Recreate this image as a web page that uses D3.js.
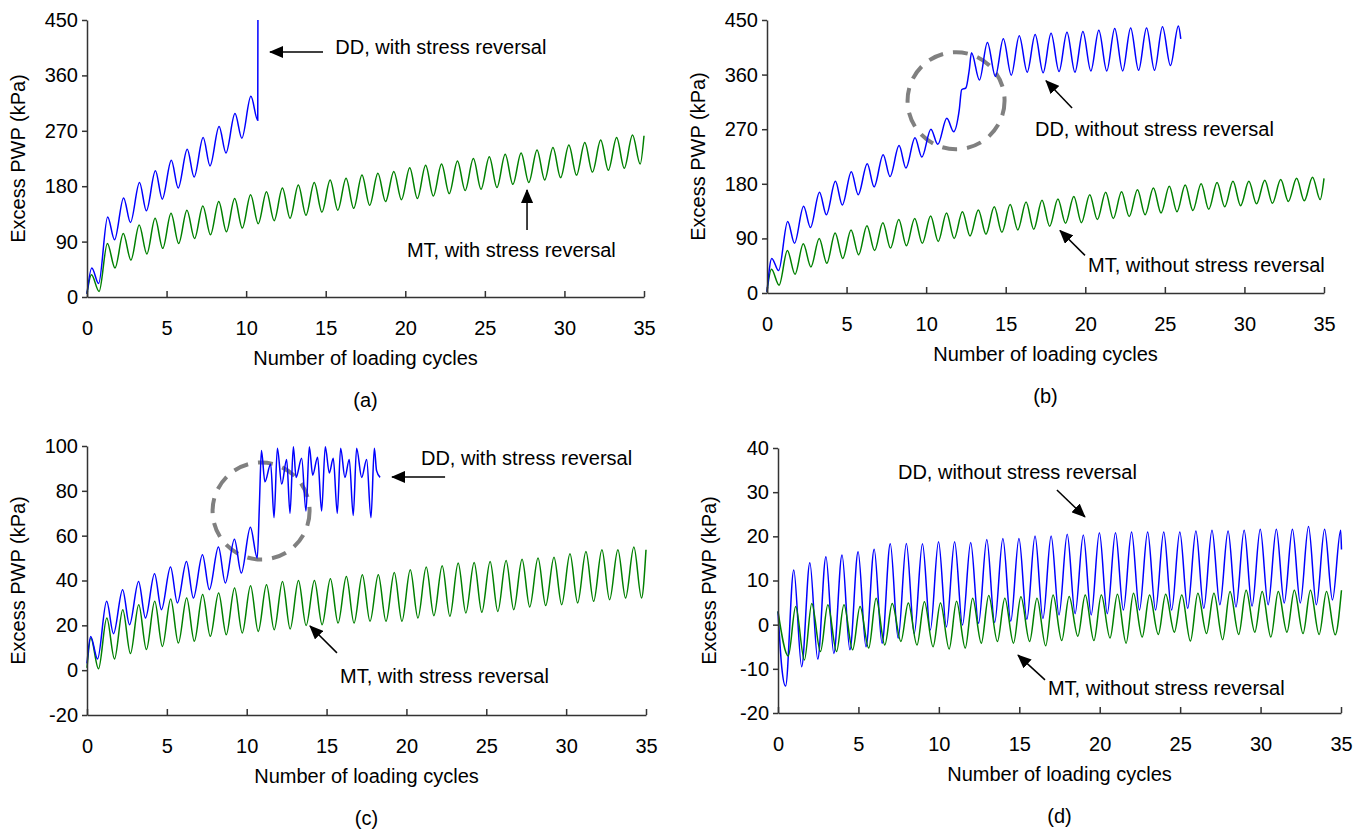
<!DOCTYPE html>
<html>
<head>
<meta charset="utf-8">
<script src="https://cdn.jsdelivr.net/npm/d3@7"></script>
<style>
  body { margin: 0; background: #fff; }
</style>
</head>
<body>
<svg id="fig" width="1366" height="833"></svg>
<script>
// DATA - excess PWP (kPa), one peak / trough per loading cycle
const cycleTicks = [0, 5, 10, 15, 20, 25, 30, 35]
const pwpTicksAB = [0, 90, 180, 270, 360, 450]
const pwpTicksC = [-20, 0, 20, 40, 60, 80, 100]
const pwpTicksD = [-20, -10, 0, 10, 20, 30, 40]

// (a) with stress reversal
const aDDPeaks = [47, 130, 161, 186, 205, 222, 240, 259, 277, 298, 326]
const aDDTroughs = [22, 93, 121, 140, 159, 177, 195, 213, 234, 258, 287]
const aDDFailure = [[10.74, 450]]
const aMTPeaks = [36, 87, 103, 117, 128, 136, 141, 148, 155, 160, 166, 171, 177, 182, 186, 190, 193, 198, 201, 204, 210, 214, 216, 221, 225, 228, 232, 234, 239, 243, 247, 251, 255, 259, 263]
const aMTTroughs = [9, 47, 60, 70, 79, 87, 95, 101, 106, 112, 119, 124, 128, 133, 138, 141, 144, 149, 155, 158, 160, 164, 168, 173, 175, 178, 183, 186, 190, 194, 198, 203, 206, 209, 216]

// (b) without stress reversal
const bDDPeaks = [57, 118, 143, 166, 184, 200, 213, 228, 243, 256, 270, 288]
const bDDTroughs = [37, 82, 108, 129, 145, 162, 175, 192, 206, 224, 245, 266]
const bDDJump = [[12.08, 302], [12.23, 335], [12.5, 338], [12.71, 368]]
const bDDPeaksLate = [396, 413, 419, 424, 426, 428, 430, 431, 433, 436, 437, 437, 439, 440]
const bDDTroughsLate = [351, 357, 359, 364, 363, 365, 364, 366, 366, 366, 367, 367, 375]
const bMTPeaks = [39, 70, 81, 90, 99, 104, 111, 116, 121, 123, 127, 132, 134, 137, 142, 146, 150, 153, 155, 159, 162, 166, 167, 170, 173, 176, 178, 180, 182, 184, 184, 186, 187, 189, 191]
const bMTTroughs = [13, 31, 43, 49, 57, 63, 70, 74, 78, 82, 85, 90, 94, 97, 100, 104, 105, 110, 115, 116, 121, 123, 126, 129, 132, 134, 136, 138, 142, 144, 147, 148, 151, 152, 154]

// (c) with stress reversal
const cDDPeaks = [15, 30.7, 35.9, 39.6, 43, 46, 48.5, 51.5, 54.9, 58.4, 63.8]
const cDDTroughs = [5, 16.3, 20.3, 23.3, 27, 30, 32.2, 35.9, 38.9, 43.3, 50]
const cDDLate = [[10.8, 75], [10.92, 98], [11.14, 84], [11.5, 92], [11.71, 68], [11.92, 99], [12.19, 83], [12.5, 94],
  [12.71, 70], [12.92, 99.7], [13.09, 86], [13.44, 94.5], [13.71, 71], [13.92, 99.7], [14.13, 87], [14.44, 95],
  [14.69, 71], [14.92, 99.7], [15.17, 88], [15.42, 94.5], [15.67, 70], [15.88, 99], [16.15, 86], [16.42, 94],
  [16.67, 69], [16.88, 99], [17.2, 86], [17.51, 94], [17.78, 68], [17.99, 99], [18.13, 89], [18.35, 86]]
const cMTPeaks = [14.4, 23.3, 27, 29.2, 30.7, 31.7, 32.2, 33.7, 34.4, 36.6, 37.7, 38.1, 39.6, 40, 40, 40.8, 41.8, 42.6, 42.6, 43.6, 44.8, 46, 46.6, 47.8, 48, 48.5, 48.9, 49.5, 50, 50.4, 51.9, 52.9, 53.7, 53.7, 54.9]
const cMTTroughs = [0.6, 5, 7.4, 9.2, 10.6, 12.1, 12.9, 15.1, 15.8, 16.6, 17.3, 18, 18.4, 19.9, 20.3, 21, 21, 21.8, 21.8, 21.8, 23.3, 24.3, 24, 25.5, 25.8, 26.2, 27, 28.2, 28.8, 29.2, 30, 30.7, 31.4, 32.2, 32.2]

// (d) without stress reversal
const dDDPeaks = [12.4, 14, 15.4, 15.8, 16.5, 17.1, 18.3, 18.4, 18.3, 18.8, 18.8, 18.6, 19.3, 19.5, 19.5, 20.1, 20.1, 20.5, 20.3, 20.8, 20.8, 21, 21, 21, 21, 21.2, 21.4, 21.2, 21.4, 21.6, 21.6, 21.6, 22.2, 21.6, 21.4]
const dDDTroughs = [-13.9, -9.5, -7.8, -6.5, -5.7, -5, -4.2, -3.1, -2, -1.2, -0.5, -0.1, 0.3, 0.5, 0.8, 1.2, 1.4, 2.2, 2.5, 2.2, 2.5, 3.3, 3.3, 3.3, 3.3, 3.7, 3.7, 4.5, 4, 4.2, 4.5, 4.9, 4.9, 4.5, 5.6]
const dMTPeaks = [4.1, 4.8, 4.5, 4.5, 4.1, 6, 4.8, 4.9, 5.2, 4.9, 5.3, 6, 6.6, 6, 6.3, 6, 6.7, 6.4, 6.7, 6.7, 6.9, 7.1, 6.7, 6.9, 6.7, 7.1, 7.1, 7.5, 7.8, 7.5, 7.5, 7.8, 7.8, 7.5]
const dMTTroughs = [-7.1, -8, -6.1, -6.1, -5.7, -5.3, -4.6, -3.8, -4.6, -5, -5.5, -5.3, -4.2, -3.8, -4.2, -3.8, -4.8, -3.6, -2.6, -3.6, -3, -4.2, -2.8, -2.2, -1.7, -3.7, -2, -3.4, -2.2, -1.7, -2.8, -1.7, -2, -2.2, -2.3]

// one value per cycle -> [cycle, kPa], placed at the phase where it was read
function cycles(values, firstCycle, phase) {
  return values.map((v, i) => [firstCycle + i + phase, v])
}
function join(...parts) {
  return parts.flat().sort((a, b) => a[0] - b[0])
}

const BLUE = '#0000ff'
const GREEN = '#008000'
const FONT = 'Arial, "Liberation Sans", sans-serif'

const panels = [
  {
    letter: '(a)', left: 87, right: 644, top: 20, bottom: 297, yDomain: [0, 450], yTicks: pwpTicksAB,
    series: [
      { color: GREEN, points: join([[0, 5]], cycles(aMTPeaks, 0, 0.28), cycles(aMTTroughs, 0, 0.76), [[35, 262]]) },
      { color: BLUE, points: join([[0, 5]], cycles(aDDPeaks, 0, 0.3), cycles(aDDTroughs, 0, 0.73), aDDFailure) }
    ],
    notes: [
      { text: 'DD, with stress reversal', at: [15.6, 406], from: [14.83, 398], to: [11.5, 398] },
      { text: 'MT, with stress reversal', at: [20.1, 76], from: [27.65, 109], to: [27.65, 174] }
    ]
  },
  {
    letter: '(b)', left: 767, right: 1324, top: 20, bottom: 293, yDomain: [0, 450], yTicks: pwpTicksAB,
    circle: [11.88, 317],
    series: [
      { color: GREEN, points: join([[0, 2]], cycles(bMTPeaks, 0, 0.28), cycles(bMTTroughs, 0, 0.76), [[35, 189]]) },
      { color: BLUE, points: join([[0, 2]], cycles(bDDPeaks, 0, 0.3), cycles(bDDTroughs, 0, 0.73), bDDJump,
          cycles(bDDPeaksLate, 12, 0.85), cycles(bDDTroughsLate, 13, 0.35), [[26, 419]]) }
    ],
    notes: [
      { text: 'DD, without stress reversal', at: [16.84, 271], from: [19.17, 305], to: [17.53, 350] },
      { text: 'MT, without stress reversal', at: [20.17, 46], from: [19.98, 62], to: [18.41, 103] }
    ]
  },
  {
    letter: '(c)', left: 87, right: 646, top: 446, bottom: 715, yDomain: [-20, 100], yTicks: pwpTicksC,
    circle: [10.9, 71],
    series: [
      { color: GREEN, points: join([[0, 1]], cycles(cMTPeaks, 0, 0.24), cycles(cMTTroughs, 0, 0.72), [[35, 53.7]]) },
      { color: BLUE, points: join([[0, 3]], cycles(cDDPeaks, 0, 0.23), cycles(cDDTroughs, 0, 0.66), cDDLate) }
    ],
    notes: [
      { text: 'DD, with stress reversal', at: [20.91, 94.6], from: [22.42, 86.2], to: [19.1, 86.2] },
      { text: 'MT, with stress reversal', at: [15.84, -2.6], from: [15.65, 7.7], to: [13.96, 19.7] }
    ]
  },
  {
    letter: '(d)', left: 778, right: 1341, top: 448, bottom: 713, yDomain: [-20, 40], yTicks: pwpTicksD,
    series: [
      { color: BLUE, points: join([[0, 3], [0.23, -9.5]], cycles(dDDPeaks, 1, -0.02), cycles(dDDTroughs, 0, 0.47), [[35.03, 17]]) },
      { color: GREEN, points: join([[0, 3]], cycles(dMTPeaks, 1, 0.1), cycles(dMTTroughs, 0, 0.64), [[35.03, 7.8]]) }
    ],
    notes: [
      { text: 'DD, without stress reversal', at: [7.46, 34.6], from: [17.34, 30.5], to: [19.08, 24.4] },
      { text: 'MT, without stress reversal', at: [16.78, -14.3], from: [16.6, -12.5], to: [14.92, -6.9] }
    ]
  }
]

const svg = d3.select('#fig')
svg.append('rect').attr('width', 1366).attr('height', 833).attr('fill', '#fff')

// ARROW HEAD
svg.append('defs').append('marker')
  .attr('id', 'head')
  .attr('viewBox', '0 0 14 12')
  .attr('refX', 13).attr('refY', 6)
  .attr('markerWidth', 14).attr('markerHeight', 12)
  .attr('markerUnits', 'userSpaceOnUse')
  .attr('orient', 'auto')
  .append('path')
  .attr('d', 'M0,0L14,6L0,12Z')
  .attr('fill', '#000')

panels.forEach(function(p) {
  const x = d3.scaleLinear([0, 35], [p.left, p.right])
  const y = d3.scaleLinear(p.yDomain, [p.bottom, p.top])
  const g = svg.append('g')

  // DASHED CIRCLE
  if (p.circle) {
    g.append('circle')
      .attr('cx', x(p.circle[0]))
      .attr('cy', y(p.circle[1]))
      .attr('r', 48.5)
      .attr('fill', 'none')
      .attr('stroke', '#808080')
      .attr('stroke-width', 4)
      .attr('stroke-dasharray', '15 10')
  }

  // LINES
  const line = d3.line()
    .x(d => x(d[0]))
    .y(d => y(d[1]))
    .curve(d3.curveMonotoneX)

  g.selectAll('path.series')
    .data(p.series)
    .join('path')
    .attr('class', 'series')
    .attr('d', d => line(d.points))
    .attr('fill', 'none')
    .attr('stroke', d => d.color)
    .attr('stroke-width', 1.5)

  // EJE X
  const xAxis = g.append('g')
    .attr('transform', `translate(0, ${p.bottom})`)
    .call(d3.axisBottom(x).tickValues(cycleTicks).tickSizeInner(-6).tickSizeOuter(0).tickPadding(24).tickFormat(d => String(d)))

  // EJE Y
  const yAxis = g.append('g')
    .attr('transform', `translate(${p.left}, 0)`)
    .call(d3.axisLeft(y).tickValues(p.yTicks).tickSizeInner(5).tickSizeOuter(0).tickPadding(4).tickFormat(d => String(d)))

  for (const ax of [xAxis, yAxis]) {
    ax.attr('font-size', 20).attr('font-family', FONT)
    ax.selectAll('path, line').attr('stroke', '#333').attr('stroke-width', 1.5)
    ax.selectAll('text').attr('fill', '#000')
  }

  // LABELS
  const mid = (p.left + p.right) / 2
  g.append('text')
    .text('Excess PWP (kPa)')
    .attr('text-anchor', 'middle')
    .attr('dominant-baseline', 'central')
    .attr('transform', `translate(${p.left - 69}, ${(p.top + p.bottom) / 2}) rotate(-90)`)
    .attr('font-size', 20).attr('font-family', FONT).attr('fill', '#000')

  g.append('text')
    .text('Number of loading cycles')
    .attr('text-anchor', 'middle')
    .attr('dominant-baseline', 'central')
    .attr('x', mid).attr('y', p.bottom + 61)
    .attr('font-size', 20).attr('font-family', FONT).attr('fill', '#000')

  g.append('text')
    .text(p.letter)
    .attr('text-anchor', 'middle')
    .attr('dominant-baseline', 'central')
    .attr('x', mid).attr('y', p.bottom + 103)
    .attr('font-size', 20).attr('font-family', FONT).attr('fill', '#000')

  // ANNOTATIONS
  p.notes.forEach(function(n) {
    g.append('text')
      .text(n.text)
      .attr('x', x(n.at[0])).attr('y', y(n.at[1]))
      .attr('dominant-baseline', 'central')
      .attr('font-size', 20).attr('font-family', FONT).attr('fill', '#000')
    g.append('line')
      .attr('x1', x(n.from[0])).attr('y1', y(n.from[1]))
      .attr('x2', x(n.to[0])).attr('y2', y(n.to[1]))
      .attr('stroke', '#000').attr('stroke-width', 1.5)
      .attr('marker-end', 'url(#head)')
  })
})
</script>
</body>
</html>
